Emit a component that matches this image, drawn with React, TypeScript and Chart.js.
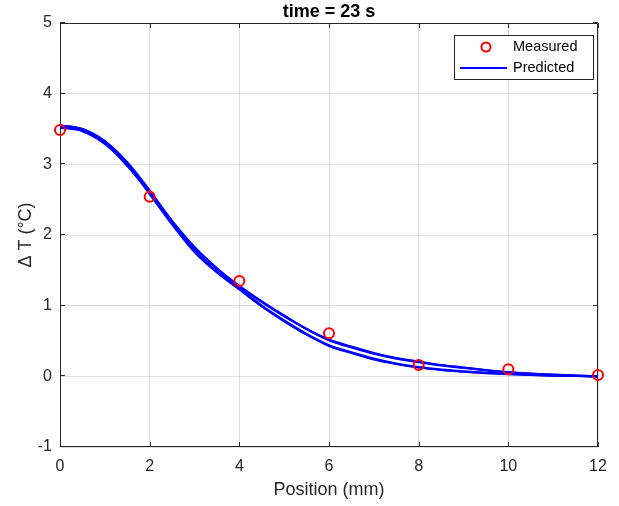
import React, { useEffect, useRef } from "react";
import { Chart, registerables } from "chart.js";

Chart.register(...registerables);

const measuredX = [0, 2, 4, 6, 8, 10, 12];
const measuredY = [3.485, 2.54, 1.35, 0.61, 0.16, 0.1, 0.02];

const predX = [0, 0.5, 1, 1.5, 2, 2.5, 3, 3.5, 4, 4.5, 5, 5.5, 6, 6.5, 7, 7.5, 8, 8.5, 9, 9.5, 10, 10.5, 11, 11.5, 12];
const pred1 = [3.55, 3.5, 3.32, 3.0, 2.62, 2.2, 1.83, 1.53, 1.28, 1.06, 0.86, 0.67, 0.52, 0.42, 0.33, 0.26, 0.21, 0.16, 0.125, 0.09, 0.06, 0.04, 0.025, 0.01, 0.0];
const pred2 = [3.53, 3.48, 3.3, 2.98, 2.6, 2.19, 1.82, 1.52, 1.27, 1.05, 0.85, 0.67, 0.51, 0.41, 0.32, 0.25, 0.2, 0.155, 0.12, 0.085, 0.055, 0.035, 0.02, 0.01, 0.0];
const pred3 = [3.55, 3.5, 3.33, 3.03, 2.63, 2.18, 1.78, 1.48, 1.24, 1.0, 0.79, 0.6, 0.44, 0.34, 0.25, 0.18, 0.13, 0.095, 0.07, 0.05, 0.035, 0.02, 0.01, 0.005, 0.0];
const pred4 = [3.52, 3.47, 3.29, 2.99, 2.58, 2.15, 1.76, 1.47, 1.23, 0.99, 0.78, 0.59, 0.43, 0.33, 0.24, 0.175, 0.125, 0.09, 0.065, 0.045, 0.03, 0.02, 0.01, 0.005, 0.0];
const predSeries = [pred1, pred2, pred3, pred4];

const xTicks = [0, 2, 4, 6, 8, 10, 12];
const yTicks = [-1, 0, 1, 2, 3, 4, 5];

const titleText = "time = 23 s";
const xLabel = "Position (mm)";
const yLabel = "\u0394 T (\u00b0C)";
const legendLabels = ["Measured", "Predicted"];

const FONT = "'Liberation Sans', Arial, sans-serif";
const AXIS = "#262626";

const framePlugin = {
  id: "matlabFrame",
  beforeDatasetsDraw(chart: any) {
    const { ctx, chartArea } = chart;
    const { left, right, top, bottom } = chartArea;
    const xs = chart.scales.x;
    const ys = chart.scales.y;
    ctx.save();
    ctx.strokeStyle = AXIS;
    ctx.lineWidth = 1;
    ctx.beginPath();
    ctx.rect(left + 0.5, top + 0.5, right - left - 1, bottom - top - 1);
    ctx.stroke();
    const tl = 5;
    ctx.beginPath();
    for (const v of xTicks) {
      const px = Math.round(xs.getPixelForValue(v)) + 0.5;
      ctx.moveTo(px, bottom);
      ctx.lineTo(px, bottom - tl);
      ctx.moveTo(px, top);
      ctx.lineTo(px, top + tl);
    }
    for (const v of yTicks) {
      const py = Math.round(ys.getPixelForValue(v)) - 0.5;
      ctx.moveTo(left, py);
      ctx.lineTo(left + tl, py);
      ctx.moveTo(right, py);
      ctx.lineTo(right - tl, py);
    }
    ctx.stroke();
    ctx.restore();
  },
  afterDraw(chart: any) {
    const { ctx, chartArea } = chart;
    const { left, right } = chartArea;
    ctx.save();
    // title
    ctx.fillStyle = "#000";
    ctx.font = `bold 18px ${FONT}`;
    ctx.textAlign = "center";
    ctx.textBaseline = "middle";
    ctx.fillText(titleText, (left + right) / 2, 12);

    // legend
    const bx = 454, by = 35, bw = 139, bh = 44;
    ctx.fillStyle = "#fff";
    ctx.fillRect(bx, by, bw, bh);
    ctx.strokeStyle = AXIS;
    ctx.lineWidth = 1;
    ctx.strokeRect(bx + 0.5, by + 0.5, bw, bh);
    ctx.strokeStyle = "#ff0000";
    ctx.lineWidth = 2;
    ctx.beginPath();
    ctx.arc(486, 47, 4.5, 0, Math.PI * 2);
    ctx.stroke();
    ctx.strokeStyle = "#0000ff";
    ctx.beginPath();
    ctx.moveTo(460, 68);
    ctx.lineTo(507, 68);
    ctx.stroke();
    ctx.fillStyle = "#000";
    ctx.font = `14.5px ${FONT}`;
    ctx.textAlign = "left";
    ctx.fillText(legendLabels[0], 513, 47);
    ctx.fillText(legendLabels[1], 513, 68);
    ctx.restore();
  },
};

export default function App() {
  const ref = useRef<HTMLCanvasElement>(null);
  useEffect(() => {
    if (!ref.current) return;
    const lineSets = predSeries.map((s) => ({
      type: "line" as const,
      label: legendLabels[1],
      data: predX.map((x, i) => ({ x, y: s[i] })),
      borderColor: "#0000ff",
      backgroundColor: "#0000ff",
      borderWidth: 2.2,
      pointRadius: 0,
      cubicInterpolationMode: "monotone" as const,
      fill: false,
      order: 1,
    }));
    const chart = new Chart(ref.current, {
      type: "line",
      data: {
        datasets: [
          {
            type: "line",
            label: legendLabels[0],
            data: measuredX.map((x, i) => ({ x, y: measuredY[i] })),
            showLine: false,
            pointStyle: "circle",
            pointRadius: 5,
            pointBorderWidth: 2,
            borderColor: "#ff0000",
            backgroundColor: "rgba(0,0,0,0)",
            pointBackgroundColor: "rgba(0,0,0,0)",
            clip: false,
            order: 0,
          } as any,
          ...lineSets,
        ],
      },
      options: {
        responsive: false,
        animation: false,
        layout: { padding: { top: 23, right: 21, left: 0, bottom: 0 } },
        plugins: { legend: { display: false }, tooltip: { enabled: false }, title: { display: false } },
        scales: {
          x: {
            type: "linear",
            min: 0,
            max: 12,
            afterBuildTicks: (s: any) => {
              s.ticks = xTicks.map((v) => ({ value: v }));
            },
            afterFit: (s: any) => {
              s.height = 59;
            },
            grid: { color: "rgba(38,38,38,0.15)", drawTicks: false, tickLength: 0 },
            border: { display: false },
            ticks: { color: AXIS, font: { family: FONT, size: 16 }, padding: 10, maxRotation: 0 },
            title: {
              display: true,
              text: xLabel,
              color: AXIS,
              font: { family: FONT, size: 18 },
              padding: { top: 0, bottom: 5 },
            },
          },
          y: {
            type: "linear",
            min: -1,
            max: 5,
            afterBuildTicks: (s: any) => {
              s.ticks = yTicks.map((v) => ({ value: v }));
            },
            afterFit: (s: any) => {
              s.width = 60;
            },
            grid: { color: "rgba(38,38,38,0.15)", drawTicks: false, tickLength: 0 },
            border: { display: false },
            ticks: { color: AXIS, font: { family: FONT, size: 16 }, padding: 8 },
            title: {
              display: true,
              text: yLabel,
              color: AXIS,
              font: { family: FONT, size: 18 },
              padding: { top: 15, bottom: 0 },
            },
          },
        },
      },
      plugins: [framePlugin],
    });
    return () => chart.destroy();
  }, []);
  return (
    <div style={{ position: "fixed", left: 0, top: 0, width: 619, height: 506, background: "#fff" }}>
      <canvas ref={ref} width={619} height={506} />
    </div>
  );
}
